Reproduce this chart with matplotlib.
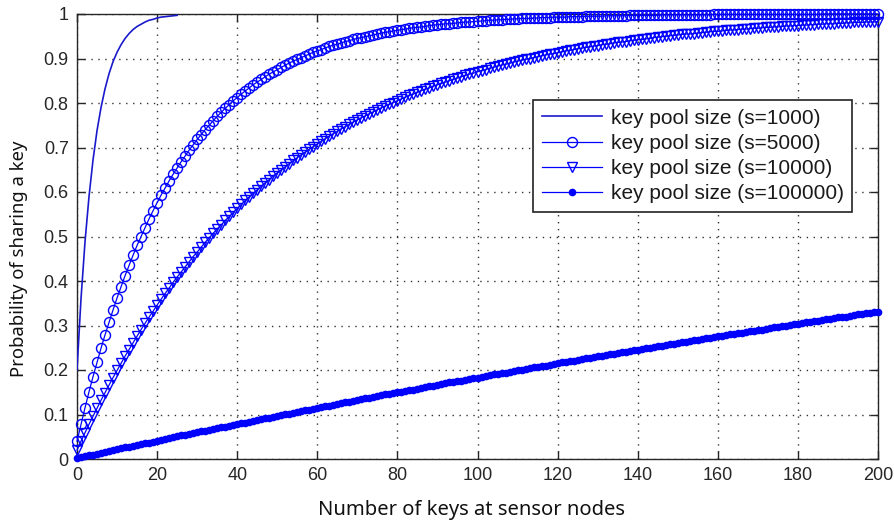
import numpy as np
import matplotlib
matplotlib.use("Agg")
import matplotlib.pyplot as plt

# Number of keys held by each sensor node
keys_all = np.arange(0, 201)
keys_s1000 = np.arange(0, 26)

# Probability that two nodes share at least one key, per key pool size
p_s1000 = [0.200, 0.360, 0.488, 0.590, 0.672, 0.738, 0.790, 0.832, 0.866, 0.893,
           0.914, 0.931, 0.945, 0.956, 0.965, 0.972, 0.977, 0.982, 0.986, 0.988,
           0.991, 0.993, 0.994, 0.995, 0.996, 0.997]

p_s5000 = [0.040, 0.078, 0.115, 0.151, 0.185, 0.217, 0.249, 0.279, 0.307, 0.335,
           0.362, 0.387, 0.412, 0.435, 0.458, 0.480, 0.500, 0.520, 0.540, 0.558,
           0.576, 0.593, 0.609, 0.625, 0.640, 0.654, 0.668, 0.681, 0.694, 0.706,
           0.718, 0.729, 0.740, 0.750, 0.760, 0.770, 0.779, 0.788, 0.796, 0.805,
           0.812, 0.820, 0.827, 0.834, 0.841, 0.847, 0.853, 0.859, 0.865, 0.870,
           0.875, 0.880, 0.885, 0.890, 0.894, 0.898, 0.902, 0.906, 0.910, 0.914,
           0.917, 0.920, 0.924, 0.927, 0.930, 0.932, 0.935, 0.938, 0.940, 0.943,
           0.945, 0.947, 0.949, 0.951, 0.953, 0.955, 0.957, 0.959, 0.960, 0.962,
           0.963, 0.965, 0.966, 0.968, 0.969, 0.970, 0.971, 0.972, 0.974, 0.975,
           0.976, 0.977, 0.978, 0.978, 0.979, 0.980, 0.981, 0.982, 0.982, 0.983,
           0.984, 0.984, 0.985, 0.986, 0.986, 0.987, 0.987, 0.988, 0.988, 0.989,
           0.989, 0.990, 0.990, 0.990, 0.991, 0.991, 0.992, 0.992, 0.992, 0.993,
           0.993, 0.993, 0.993, 0.994, 0.994, 0.994, 0.994, 0.995, 0.995, 0.995,
           0.995, 0.995, 0.996, 0.996, 0.996, 0.996, 0.996, 0.996, 0.997, 0.997,
           0.997, 0.997, 0.997, 0.997, 0.997, 0.997, 0.998, 0.998, 0.998, 0.998,
           0.998, 0.998, 0.998, 0.998, 0.998, 0.998, 0.998, 0.998, 0.998, 0.999,
           0.999, 0.999, 0.999, 0.999, 0.999, 0.999, 0.999, 0.999, 0.999, 0.999,
           0.999, 0.999, 0.999, 0.999, 0.999, 0.999, 0.999, 0.999, 0.999, 0.999,
           0.999, 0.999, 0.999, 0.999, 0.999, 0.999, 1.000, 1.000, 1.000, 1.000,
           1.000, 1.000, 1.000, 1.000, 1.000, 1.000, 1.000, 1.000, 1.000, 1.000,
           1.000]

p_s10000 = [0.020, 0.040, 0.059, 0.078, 0.096, 0.114, 0.132, 0.149, 0.166, 0.183,
            0.199, 0.215, 0.231, 0.246, 0.261, 0.276, 0.291, 0.305, 0.319, 0.332,
            0.346, 0.359, 0.372, 0.384, 0.397, 0.409, 0.420, 0.432, 0.443, 0.455,
            0.465, 0.476, 0.487, 0.497, 0.507, 0.517, 0.526, 0.536, 0.545, 0.554,
            0.563, 0.572, 0.581, 0.589, 0.597, 0.605, 0.613, 0.621, 0.628, 0.636,
            0.643, 0.650, 0.657, 0.664, 0.671, 0.677, 0.684, 0.690, 0.696, 0.702,
            0.708, 0.714, 0.720, 0.726, 0.731, 0.736, 0.742, 0.747, 0.752, 0.757,
            0.762, 0.767, 0.771, 0.776, 0.780, 0.785, 0.789, 0.793, 0.797, 0.801,
            0.805, 0.809, 0.813, 0.817, 0.820, 0.824, 0.828, 0.831, 0.834, 0.838,
            0.841, 0.844, 0.847, 0.850, 0.853, 0.856, 0.859, 0.862, 0.865, 0.867,
            0.870, 0.873, 0.875, 0.878, 0.880, 0.883, 0.885, 0.887, 0.889, 0.892,
            0.894, 0.896, 0.898, 0.900, 0.902, 0.904, 0.906, 0.908, 0.910, 0.911,
            0.913, 0.915, 0.917, 0.918, 0.920, 0.922, 0.923, 0.925, 0.926, 0.928,
            0.929, 0.931, 0.932, 0.933, 0.935, 0.936, 0.937, 0.938, 0.940, 0.941,
            0.942, 0.943, 0.944, 0.945, 0.947, 0.948, 0.949, 0.950, 0.951, 0.952,
            0.953, 0.954, 0.955, 0.955, 0.956, 0.957, 0.958, 0.959, 0.960, 0.961,
            0.961, 0.962, 0.963, 0.964, 0.964, 0.965, 0.966, 0.966, 0.967, 0.968,
            0.968, 0.969, 0.970, 0.970, 0.971, 0.971, 0.972, 0.973, 0.973, 0.974,
            0.974, 0.975, 0.975, 0.976, 0.976, 0.977, 0.977, 0.978, 0.978, 0.978,
            0.979, 0.979, 0.980, 0.980, 0.981, 0.981, 0.981, 0.982, 0.982, 0.982,
            0.983]

p_s100000 = [0.002, 0.004, 0.006, 0.008, 0.010, 0.012, 0.014, 0.016, 0.018, 0.020,
             0.022, 0.024, 0.026, 0.028, 0.030, 0.032, 0.033, 0.035, 0.037, 0.039,
             0.041, 0.043, 0.045, 0.047, 0.049, 0.051, 0.053, 0.055, 0.056, 0.058,
             0.060, 0.062, 0.064, 0.066, 0.068, 0.070, 0.071, 0.073, 0.075, 0.077,
             0.079, 0.081, 0.082, 0.084, 0.086, 0.088, 0.090, 0.092, 0.093, 0.095,
             0.097, 0.099, 0.101, 0.102, 0.104, 0.106, 0.108, 0.110, 0.111, 0.113,
             0.115, 0.117, 0.118, 0.120, 0.122, 0.124, 0.126, 0.127, 0.129, 0.131,
             0.132, 0.134, 0.136, 0.138, 0.139, 0.141, 0.143, 0.145, 0.146, 0.148,
             0.150, 0.151, 0.153, 0.155, 0.156, 0.158, 0.160, 0.162, 0.163, 0.165,
             0.167, 0.168, 0.170, 0.172, 0.173, 0.175, 0.176, 0.178, 0.180, 0.181,
             0.183, 0.185, 0.186, 0.188, 0.190, 0.191, 0.193, 0.194, 0.196, 0.198,
             0.199, 0.201, 0.202, 0.204, 0.206, 0.207, 0.209, 0.210, 0.212, 0.214,
             0.215, 0.217, 0.218, 0.220, 0.221, 0.223, 0.224, 0.226, 0.228, 0.229,
             0.231, 0.232, 0.234, 0.235, 0.237, 0.238, 0.240, 0.241, 0.243, 0.244,
             0.246, 0.247, 0.249, 0.250, 0.252, 0.253, 0.255, 0.256, 0.258, 0.259,
             0.261, 0.262, 0.264, 0.265, 0.267, 0.268, 0.270, 0.271, 0.273, 0.274,
             0.276, 0.277, 0.278, 0.280, 0.281, 0.283, 0.284, 0.286, 0.287, 0.288,
             0.290, 0.291, 0.293, 0.294, 0.296, 0.297, 0.298, 0.300, 0.301, 0.303,
             0.304, 0.305, 0.307, 0.308, 0.310, 0.311, 0.312, 0.314, 0.315, 0.316,
             0.318, 0.319, 0.320, 0.322, 0.323, 0.325, 0.326, 0.327, 0.329, 0.330,
             0.331]

labels = ["key pool size (s=1000)", "key pool size (s=5000)",
          "key pool size (s=10000)", "key pool size (s=100000)"]

x_ticks = [0, 20, 40, 60, 80, 100, 120, 140, 160, 180, 200]
y_ticks = [0, 0.1, 0.2, 0.3, 0.4, 0.5, 0.6, 0.7, 0.8, 0.9, 1]
y_tick_labels = ["0", "0.1", "0.2", "0.3", "0.4", "0.5", "0.6", "0.7", "0.8", "0.9", "1"]

W, H = 894, 525
fig = plt.figure(figsize=(W / 100, H / 100), dpi=100)
fig.patch.set_facecolor("white")

left, right, top, bottom = 77, 878, 14, 459
ax = fig.add_axes([left / W, (H - bottom) / H, (right - left) / W, (bottom - top) / H])

blue = "#0000ff"
sans = ["Liberation Sans", "DejaVu Sans"]
label_font = ["Noto Sans", "DejaVu Sans"]

ax.plot(keys_s1000, p_s1000, color="#1a1acc", lw=1.2, label=labels[0], zorder=3)
ax.plot(keys_all, p_s5000, color=blue, lw=0.9, marker="o", ms=7.2,
        mfc="none", mec=blue, mew=1.0, label=labels[1], clip_on=False, zorder=3)
ax.plot(keys_all, p_s10000, color=blue, lw=0.9, marker="v", ms=7.8,
        mfc="none", mec=blue, mew=1.0, label=labels[2], clip_on=False, zorder=3)
ax.plot(keys_all, p_s100000, color=blue, lw=0.9, marker=".", ms=9,
        mfc=blue, mec=blue, label=labels[3], clip_on=False, zorder=3)

ax.set_xlim(0, 200)
ax.set_ylim(0, 1)
ax.set_xticks(x_ticks)
ax.set_yticks(y_ticks)
ax.set_yticklabels(y_tick_labels)
for t in ax.get_xticklabels() + ax.get_yticklabels():
    t.set_fontfamily(sans)
    t.set_fontsize(13)
    t.set_color("#262626")

ax.tick_params(direction="in", length=6, width=1.0, top=True, right=True,
               colors="#262626", pad=6)
ax.grid(True, color="#333333", linestyle=(0, (1, 4)), linewidth=1.0)
for sp in ax.spines.values():
    sp.set_color("#262626")
    sp.set_linewidth(1.0)

ax.set_xlabel("Number of keys at sensor nodes", family=label_font, size=14.5,
              color="#111111")
ax.xaxis.set_label_coords((471 - left) / (right - left), (bottom - 500) / (bottom - top))
ax.set_ylabel("Probability of sharing a key", family=label_font, size=13.3,
              color="#111111")
ax.yaxis.set_label_coords((28 - left) / (right - left), (bottom - 259) / (bottom - top))

leg = ax.legend(loc="upper left", bbox_to_anchor=(0.569, 0.807), borderaxespad=0,
                frameon=True, fancybox=False, edgecolor="#222222", framealpha=1,
                numpoints=1, handlelength=2.9, handletextpad=0.42, borderpad=0.42,
                labelspacing=0.3, prop=dict(family=sans, size=15))
leg.get_frame().set_linewidth(1.2)
for t in leg.get_texts():
    t.set_color("#1a1a1a")

fig.savefig("out.png", dpi=100, facecolor="white")
